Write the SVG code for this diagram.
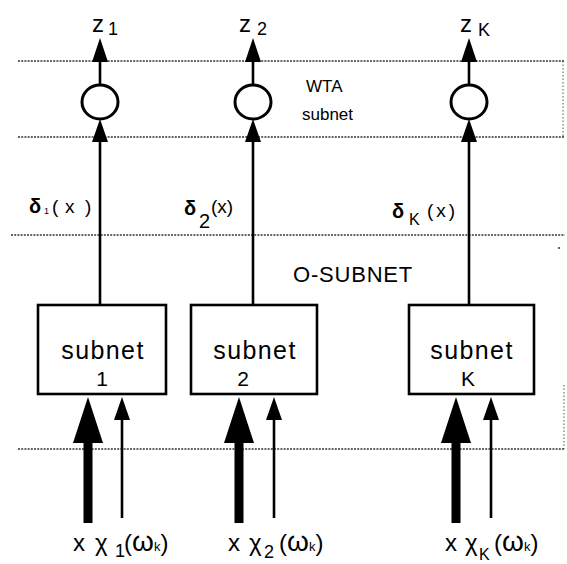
<svg xmlns="http://www.w3.org/2000/svg" width="567" height="564" viewBox="0 0 567 564">
<style>
.dot{stroke:#333;stroke-width:1.5;stroke-dasharray:2 1.2;fill:none}
.vdot{stroke:#555;stroke-width:1;stroke-dasharray:1.5 2;fill:none}
.ln{stroke:#000;stroke-width:2.6;fill:none}
.box{stroke:#000;stroke-width:2.6;fill:#fff}
.circ{stroke:#000;stroke-width:3;fill:#fff}
.hd{fill:#000}
text{font-family:"Liberation Sans",Arial,sans-serif;fill:#000}
.z{font-size:24px}
.zs{font-size:18px}
.small{font-size:17px}
.bt{font-size:25px;text-anchor:middle;letter-spacing:1.4px}
.bn{font-size:21px;text-anchor:middle}
.d{font-size:20px;font-weight:bold}
.dx{font-size:19px}
.in{font-size:24px}
</style>
<rect width="567" height="564" fill="#fff"/>
<g id="layers">
<line class="dot" x1="18" y1="61" x2="564" y2="61"/>
<line class="dot" x1="18" y1="137" x2="564" y2="137"/>
<line class="vdot" x1="563" y1="61" x2="563" y2="137"/>
<line class="dot" x1="11" y1="235" x2="565" y2="235"/>
<circle cx="559" cy="248" r="1" fill="#333"/>
<line class="dot" x1="18" y1="449" x2="565" y2="449"/>
<line class="vdot" x1="564" y1="385" x2="564" y2="449"/>
</g>
<g id="connectors">
<line class="ln" x1="100" y1="60" x2="100" y2="85"/>
<polygon class="hd" points="100,38 92,62 108,62"/>
<polygon class="hd" points="100,119 92,142 108,142"/>
<line class="ln" x1="100" y1="141" x2="100" y2="305"/>
<line class="ln" x1="253" y1="60" x2="253" y2="85"/>
<polygon class="hd" points="253,38 245,62 261,62"/>
<polygon class="hd" points="253,119 245,142 261,142"/>
<line class="ln" x1="253" y1="141" x2="253" y2="305"/>
<line class="ln" x1="469" y1="60" x2="469" y2="85"/>
<polygon class="hd" points="469,38 461,62 477,62"/>
<polygon class="hd" points="469,119 461,142 477,142"/>
<line class="ln" x1="469" y1="141" x2="469" y2="305"/>
<polygon class="hd" points="88,397 73,443 103,443"/>
<rect x="83.5" y="442" width="9" height="81" fill="#000"/>
<polygon class="hd" points="122,397 114,420 130,420"/>
<line class="ln" x1="122" y1="419" x2="122" y2="518"/>
<polygon class="hd" points="239,397 224,443 254,443"/>
<rect x="234.5" y="442" width="9" height="81" fill="#000"/>
<polygon class="hd" points="274,397 266,420 282,420"/>
<line class="ln" x1="274" y1="419" x2="274" y2="518"/>
<polygon class="hd" points="456,397 441,443 471,443"/>
<rect x="451.5" y="442" width="9" height="81" fill="#000"/>
<polygon class="hd" points="491,397 483,420 499,420"/>
<line class="ln" x1="491" y1="419" x2="491" y2="518"/>
</g>
<g id="wta1"><ellipse class="circ" cx="100" cy="102" rx="18" ry="17"/></g>
<g id="wta2"><ellipse class="circ" cx="253" cy="102" rx="18" ry="17"/></g>
<g id="wtaK"><ellipse class="circ" cx="469" cy="102" rx="18" ry="17"/></g>
<g id="subnet1"><rect class="box" x="38" y="305" width="128" height="89"/><text class="bt" x="103" y="359">subnet</text><text class="bn" x="102" y="386">1</text></g>
<g id="subnet2"><rect class="box" x="191" y="305" width="126" height="89"/><text class="bt" x="255" y="359">subnet</text><text class="bn" x="243" y="386">2</text></g>
<g id="subnetK"><rect class="box" x="409" y="305" width="125" height="89"/><text class="bt" x="472" y="359">subnet</text><text class="bn" x="468" y="386">K</text></g>
<g id="labels">
<text class="z" x="92" y="32">z</text><text class="zs" x="108" y="35">1</text>
<text class="z" x="239" y="32">z</text><text class="zs" x="257" y="35">2</text>
<text class="z" x="460" y="32">z</text><text class="zs" x="478" y="36">K</text>
<text class="small" x="306" y="92">WTA</text>
<text class="small" x="302" y="120">subnet</text>
<text class="d" x="29" y="213">δ</text><text style="font-size:9px" x="44" y="214">1</text><text class="dx" x="52" y="213">(</text><text class="dx" x="65" y="213">x</text><text class="dx" x="85" y="213">)</text>
<text class="d" x="184" y="215">δ</text><text style="font-size:20px" x="199" y="228">2</text><text class="dx" x="211" y="213">(x)</text>
<text class="d" x="392" y="218">δ</text><text style="font-size:16px" x="409" y="225">K</text><text class="dx" x="427" y="217" letter-spacing="3">(x)</text>
<text style="font-size:22px;letter-spacing:0.8px" x="293" y="282">O-SUBNET</text>
<text class="in" x="73" y="551">x</text><text class="in" x="95" y="551">χ</text><text style="font-size:18px" x="115" y="557">1</text><text class="in" x="124" y="551">(<tspan style="font-size:28px">ω</tspan><tspan style="font-size:13px">k</tspan>)</text>
<text class="in" x="228" y="551">x</text><text class="in" x="249" y="551">χ</text><text style="font-size:18px" x="264" y="558">2</text><text class="in" x="279" y="551">(<tspan style="font-size:28px">ω</tspan><tspan style="font-size:13px">k</tspan>)</text>
<text class="in" x="445" y="551">x</text><text class="in" x="465" y="551">χ</text><text style="font-size:16px" x="479" y="560">K</text><text class="in" x="494" y="551">(<tspan style="font-size:28px">ω</tspan><tspan style="font-size:13px">k</tspan>)</text>
</g>
</svg>
